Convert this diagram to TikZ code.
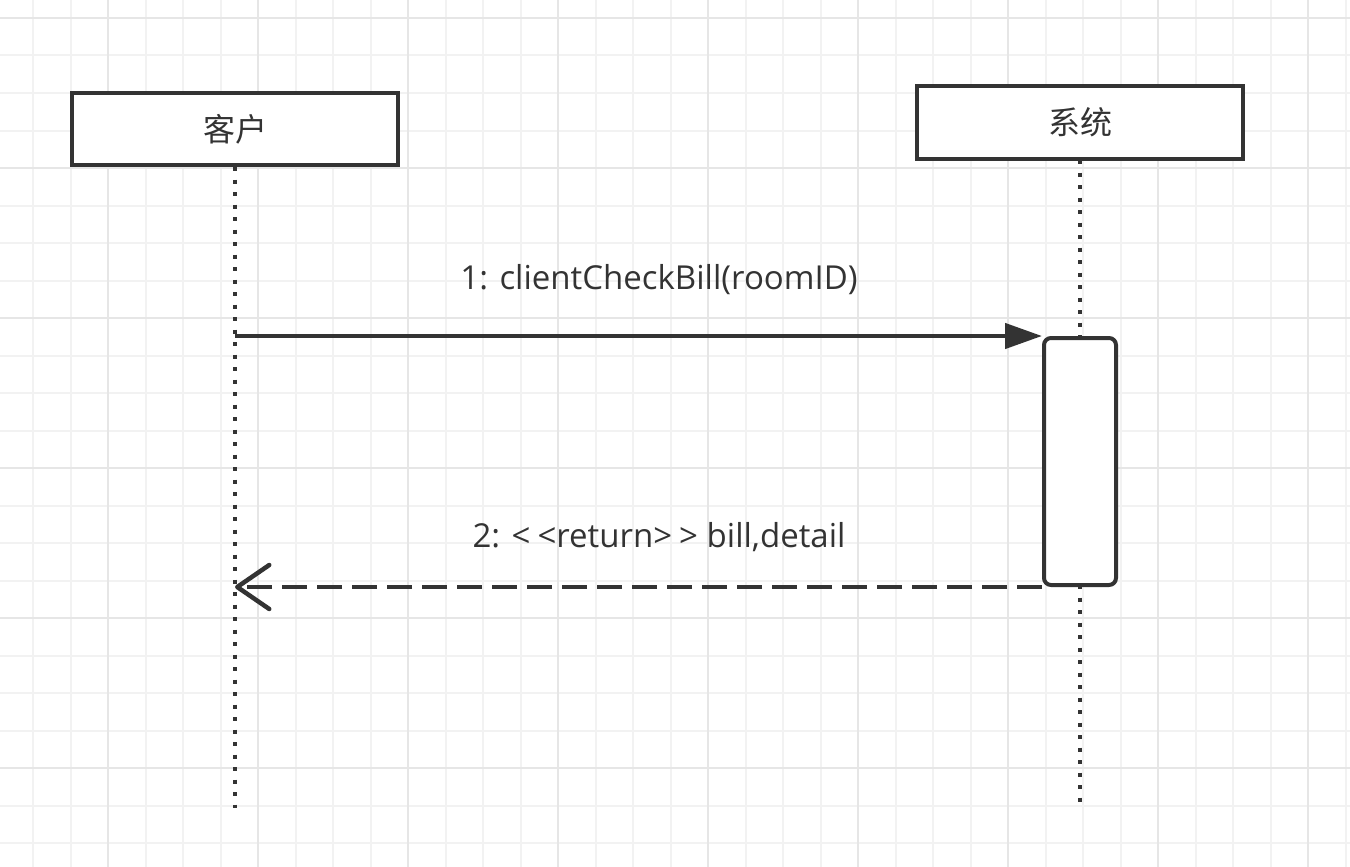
\documentclass[tikz,border=0pt]{standalone}
\usepackage{fontspec}
\setmainfont{Open Sans}
\newfontfamily\cjk{Noto Sans CJK SC}
\usetikzlibrary{arrows.meta}
\definecolor{linegray}{HTML}{333333}
\definecolor{gridminor}{HTML}{F2F2F2}
\definecolor{gridmajor}{HTML}{E6E6E6}
\begin{document}
\begin{tikzpicture}[x = 1pt, y = -1pt]
    \useasboundingbox (0, 0) rectangle (1350, 867);

    \tikzstyle{minorline} = [gridminor, line width = 2pt]
    \tikzstyle{majorline} = [gridmajor, line width = 2pt]
    \tikzstyle{actor} = [rectangle, draw = linegray, line width = 4pt, fill = white, inner sep = 0pt, minimum width = 326pt, minimum height = 72pt, font = \cjk\fontsize{32}{36}\selectfont, text = linegray]
    \tikzstyle{actbox} = [rectangle, rounded corners = 7pt, draw = linegray, line width = 4pt, fill = white, minimum width = 72pt, minimum height = 247pt]
    \tikzstyle{lifeline} = [linegray, line width = 4.5pt, dash pattern = on 4pt off 8.5pt]
    \tikzstyle{msglabel} = [font = \fontsize{33}{38}\selectfont, text = linegray, inner sep = 0pt]

    % background grid
    \foreach \gx in {33, 70.5, ..., 1350} \draw[minorline] (\gx, 0) -- (\gx, 867);
    \foreach \gy in {18, 55.5, ..., 867} \draw[minorline] (0, \gy) -- (1350, \gy);
    \foreach \gx in {108, 258, ..., 1350} \draw[majorline] (\gx, 0) -- (\gx, 867);
    \foreach \gy in {18, 168, ..., 867} \draw[majorline] (0, \gy) -- (1350, \gy);

    % lifelines
    \coordinate (clientend) at (235, 808);
    \coordinate (systemend) at (1080, 802);
    \draw[lifeline] (235, 167) -- (clientend);
    \draw[lifeline] (1080, 160) -- (systemend);

    \node[actor] (client) at (235, 129) {客户};
    \node[actor] (system) at (1080, 122.5) {系统};

    \node[actbox] (act) at (1080, 461.5) {};

    % messages
    \draw[linegray, line width = 4.5pt, -{Triangle[length = 37pt, width = 25pt]}] (client.south |- act.north west) -- (act.north west);
    \node[msglabel] (call) at (659, 280) {1: clientCheckBill(roomID)};

    \draw[linegray, line width = 4.5pt, dash pattern = on 25pt off 10pt, -{Straight Barb[length = 32pt, width = 44pt, round]}] (act.south west) -- (client.south |- act.south west);
    \node[msglabel] (reply) at (659, 537) {2: <\hspace{7pt}<return>\hspace{7pt}> bill,detail};
\end{tikzpicture}
\end{document}
